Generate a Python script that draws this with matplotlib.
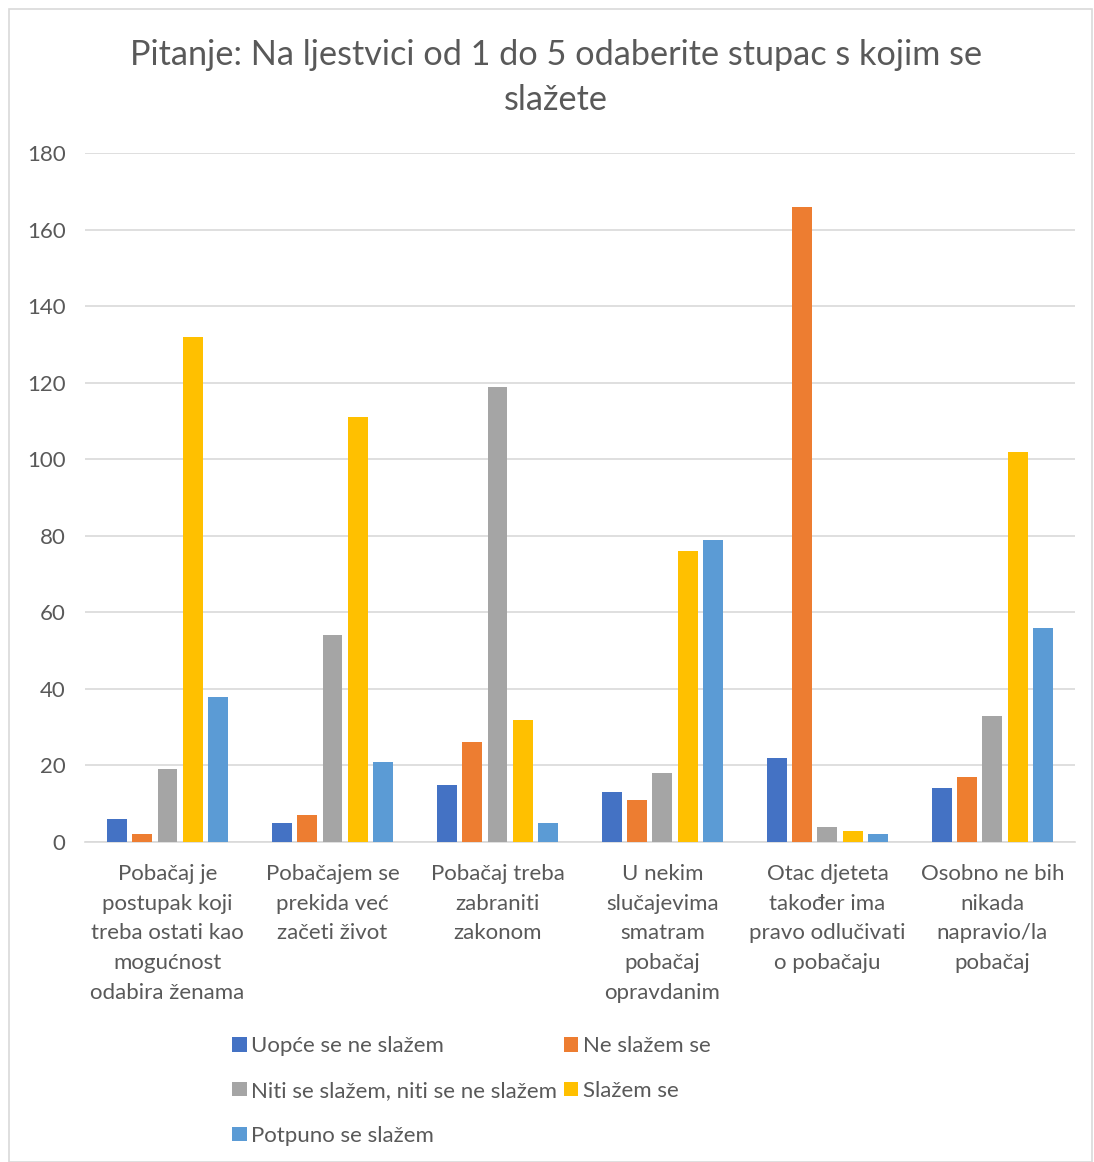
import matplotlib.pyplot as plt
import numpy as np

categories = [
    "Pobačaj je\npostupak koji\ntreba ostati kao\nmogućnost\nodabira ženama",
    "Pobačajem se\nprekida već\nzačeti život",
    "Pobačaj treba\nzabraniti\nzakonom",
    "U nekim\nslučajevima\nsmatram\npobačaj\nopravdanim",
    "Otac djeteta\ntakođer ima\npravo odlučivati\no pobačaju",
    "Osobno ne bih\nnikada\nnapravio/la\npobačaj",
]
series_names = [
    "Uopće se ne slažem",
    "Ne slažem se",
    "Niti se slažem, niti se ne slažem",
    "Slažem se",
    "Potpuno se slažem",
]
uopce = [6, 5, 15, 13, 22, 14]
ne_slazem = [2, 7, 26, 11, 166, 17]
niti = [19, 54, 119, 18, 4, 33]
slazem = [132, 111, 32, 76, 3, 102]
potpuno = [38, 21, 5, 79, 2, 56]
yticks = [0, 20, 40, 60, 80, 100, 120, 140, 160, 180]

colors = ["#4472C4", "#ED7D31", "#A5A5A5", "#FFC000", "#5B9BD5"]
txt = "#595959"

plt.rcParams['font.family'] = ['Lato', 'DejaVu Sans']

fig = plt.figure(figsize=(10.94, 11.62), dpi=100)
ax = fig.add_axes([0.0777, 0.2754, 0.9049, 0.5929])

x = np.arange(len(categories))
pitch = 0.153
width = 0.121
handles = []
for i, vals in enumerate([uopce, ne_slazem, niti, slazem, potpuno]):
    b = ax.bar(x + (i - 2) * pitch, vals, width, color=colors[i],
               label=series_names[i], zorder=3)
    handles.append(b)

ax.set_xlim(-0.5, len(categories) - 0.5)
ax.set_ylim(0, 180)
ax.set_yticks(yticks)
ax.yaxis.grid(True, color="#D9D9D9", linewidth=1.2, zorder=0)
ax.tick_params(axis='y', length=0, labelsize=16, labelcolor=txt, pad=14)
ax.set_xticks(x)
ax.set_xticklabels(categories, fontsize=16, color=txt, linespacing=1.6)
ax.tick_params(axis='x', length=0, pad=16)
for s in ["top", "right", "left"]:
    ax.spines[s].set_visible(False)
ax.spines["bottom"].set_color("#D9D9D9")
ax.spines["bottom"].set_linewidth(1.2)

fig.text(0.508, 0.933, "Pitanje: Na ljestvici od 1 do 5 odaberite stupac s kojim se\nslažete",
         ha="center", va="center", fontsize=24.7, color=txt, linespacing=1.5)

order = [0, 2, 4, 1, 3]
fig.legend([handles[i] for i in order], [series_names[i] for i in order],
           ncol=2, loc="upper left", bbox_to_anchor=(0.202, 0.118),
           frameon=False, fontsize=16, labelcolor=txt,
           handlelength=0.65, handleheight=0.65, handletextpad=0.2,
           columnspacing=0.3, labelspacing=1.12, borderpad=0)

# chart border
fig.patches.append(plt.Rectangle((0.008, 0.0), 0.99, 0.992, transform=fig.transFigure,
                                 fill=False, edgecolor="#D9D9D9", linewidth=1.2))

fig.savefig("out.png", dpi=100)
